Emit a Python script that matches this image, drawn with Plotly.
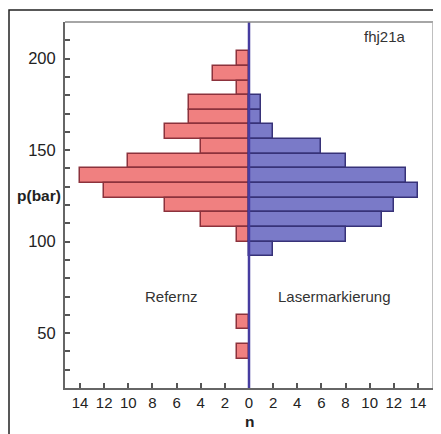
import plotly.graph_objects as go

# Bin centres (bar) and counts
red_p = [200, 192, 184, 176, 168, 160, 152, 144, 136, 128, 120, 112, 104, 56, 40]
red_n = [1, 3, 1, 5, 5, 7, 4, 10, 14, 12, 7, 4, 1, 1, 1]
blue_p = [176, 168, 160, 152, 144, 136, 128, 120, 112, 104, 96]
blue_n = [1, 1, 2, 6, 8, 13, 14, 12, 11, 8, 2]
bin_width = 8

x_ticks = list(range(-14, 15, 2))
x_labels = [str(abs(v)) for v in x_ticks]

FONT = "Liberation Sans, Arial, sans-serif"

# page body has an 8px margin; figure is sized/offset to compensate
W, H = 433, 426
L, R, T, B = 57, 8, 14, 46
PW = W - L - R
PH = H - T - B

fig = go.Figure()
fig.add_trace(go.Bar(
    y=red_p, x=[-v for v in red_n], orientation="h", width=bin_width,
    marker=dict(color="rgb(240,128,128)", line=dict(color="rgb(140,50,60)", width=1.5)),
    showlegend=False,
))
fig.add_trace(go.Bar(
    y=blue_p, x=blue_n, orientation="h", width=bin_width,
    marker=dict(color="rgb(122,122,200)", line=dict(color="rgb(55,50,120)", width=1.5)),
    showlegend=False,
))

fig.update_layout(
    width=W, height=H,
    margin=dict(l=L, r=R, t=T, b=B),
    paper_bgcolor="white", plot_bgcolor="white",
    barmode="overlay", bargap=0,
    font=dict(family=FONT, size=15, color="#222"),
    xaxis=dict(
        range=[-15.25, 15.25], tickvals=x_ticks, ticktext=x_labels,
        ticks="inside", ticklen=5, tickwidth=2, tickcolor="#555",
        showgrid=False, zeroline=False,
        showline=True, linecolor="#666", linewidth=2, mirror=False,
        tickfont=dict(size=15),
    ),
    yaxis=dict(
        range=[20, 220], tick0=0, dtick=50,
        ticks="inside", ticklen=5, tickwidth=2, tickcolor="#555",
        minor=dict(dtick=10, ticks="inside", ticklen=5, tickwidth=2, tickcolor="#555"),
        showgrid=False, zeroline=False,
        showline=True, linecolor="#666", linewidth=2,
        tickfont=dict(size=16.5), ticklabelstandoff=4,
    ),
    shapes=[
        dict(type="line", xref="x", yref="paper", x0=0, x1=0, y0=0, y1=1,
             line=dict(color="rgb(70,60,160)", width=2.5), layer="above"),
        dict(type="line", xref="paper", yref="paper", x0=0, x1=1, y0=1, y1=1,
             line=dict(color="#888", width=1.5)),
        dict(type="line", xref="paper", yref="paper", x0=1, x1=1, y0=0, y1=1,
             line=dict(color="#aaa", width=1.5)),
        dict(type="rect", xref="paper", yref="paper",
             x0=(1 - L) / PW, x1=(432 - L) / PW,
             y0=-0.2, y1=1 + (T - 2) / PH,
             line=dict(color="#222", width=1.5), layer="below"),
    ],
    annotations=[
        dict(text="fhj21a", xref="x", yref="y", x=11.3, y=212, showarrow=False,
             xanchor="center", yanchor="middle", font=dict(size=15, color="#333")),
        dict(text="Refernz", xref="x", yref="y", x=-6.4, y=70, showarrow=False,
             xanchor="center", yanchor="middle", font=dict(size=15, color="#333")),
        dict(text="Lasermarkierung", xref="x", yref="y", x=7.1, y=70, showarrow=False,
             xanchor="center", yanchor="middle", font=dict(size=15, color="#333")),
        dict(text="<b>p(bar)</b>", xref="paper", yref="y", x=(31 - L) / PW, y=125,
             xanchor="center", yanchor="middle",
             showarrow=False, font=dict(size=15.5, color="#222")),
        dict(text="<b>n</b>", xref="x", yref="paper", x=0, y=-(413 - (H - B)) / PH,
             xanchor="center", yanchor="middle",
             showarrow=False, font=dict(size=15.5, color="#222")),
    ],
)

fig.write_html("out.html")
